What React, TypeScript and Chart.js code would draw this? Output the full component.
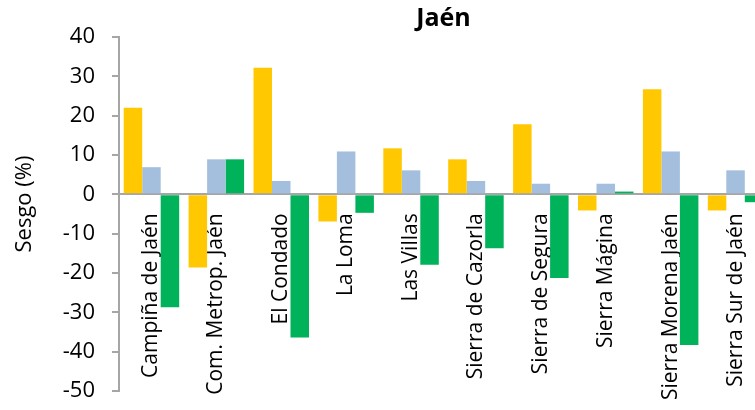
import React, { useEffect, useRef } from "react";
import { Chart, registerables } from "chart.js";

Chart.register(...registerables);

// Comarcas of the province
const categories = [
  "Campiña de Jaén",
  "Com. Metrop. Jaén",
  "El Condado",
  "La Loma",
  "Las Villas",
  "Sierra de Cazorla",
  "Sierra de Segura",
  "Sierra Mágina",
  "Sierra Morena Jaén",
  "Sierra Sur de Jaén",
];

// Bias (%) per comarca, three series
const seriesYellow = [22, -18.6, 32.2, -6.9, 11.7, 8.9, 17.8, -4.1, 26.7, -4.1];
const seriesBlue = [6.9, 8.9, 3.4, 10.9, 6.1, 3.4, 2.7, 2.7, 10.9, 6.1];
const seriesGreen = [-28.7, 8.9, -36.4, -4.7, -17.9, -13.7, -21.3, 0.7, -38.3, -2.0];

const yMin = -50;
const yMax = 40;
const yStep = 10;
const yTitle = "Sesgo (%)";

const FONT = "'Open Sans', 'DejaVu Sans', sans-serif";
const AXIS_GREY = "#a6a6a6";

// Vertical axis title, drawn a little above the middle of the plot area
const yTitlePlugin = {
  id: "yTitle",
  afterDraw(chart: any) {
    const { ctx, chartArea } = chart;
    ctx.save();
    ctx.translate(25, (chartArea.top + chartArea.bottom) / 2 - 10);
    ctx.rotate(-Math.PI / 2);
    ctx.font = `22px ${FONT}`;
    ctx.fillStyle = "#000";
    ctx.textAlign = "center";
    ctx.textBaseline = "middle";
    ctx.fillText(yTitle, 0, 0);
    ctx.restore();
  },
};

export default function App() {
  const canvasRef = useRef<HTMLCanvasElement | null>(null);

  useEffect(() => {
    const canvas = canvasRef.current;
    if (!canvas) return;
    const chart = new Chart(canvas, {
      type: "bar",
      data: {
        labels: categories,
        datasets: [
          { data: seriesYellow, backgroundColor: "#FFC800" },
          { data: seriesBlue, backgroundColor: "#A4BFDE" },
          { data: seriesGreen, backgroundColor: "#00B259" },
        ],
      },
      plugins: [yTitlePlugin],
      options: {
        responsive: false,
        animation: false,
        events: [],
        layout: { padding: { left: 0, right: 2, top: 0, bottom: 19 } },
        datasets: {
          bar: { categoryPercentage: 0.855, barPercentage: 1, borderWidth: 0 },
        },
        plugins: {
          legend: { display: false },
          tooltip: { enabled: false },
          title: {
            display: true,
            text: "Jaén",
            fullSize: false,
            color: "#000",
            font: { family: FONT, size: 25, weight: "bold", lineHeight: 1.2 },
            padding: { top: 4, bottom: 3 },
          },
        },
        scales: {
          x: {
            type: "category",
            position: { y: 0 } as any,
            z: 1,
            offset: true,
            afterFit: (scale: any) => {
              scale.paddingLeft = 0;
              scale.paddingRight = 0;
            },
            grid: { display: false, drawTicks: false },
            border: { display: true, color: AXIS_GREY, width: 2 },
            ticks: {
              autoSkip: false,
              minRotation: 90,
              maxRotation: 90,
              padding: 19,
              color: "#000",
              font: { family: FONT, size: 21 },
            },
          },
          y: {
            min: yMin,
            max: yMax,
            afterFit: (scale: any) => {
              scale.width = 119;
              scale.paddingTop = 0;
              scale.paddingBottom = 0;
            },
            grid: {
              drawOnChartArea: false,
              drawTicks: true,
              tickLength: 7,
              color: AXIS_GREY,
              lineWidth: 2,
            },
            border: { display: true, color: AXIS_GREY, width: 2 },
            ticks: {
              stepSize: yStep,
              padding: 17,
              color: "#000",
              font: { family: FONT, size: 22 },
            },
          },
        },
      },
    });
    return () => chart.destroy();
  }, []);

  return (
    <div
      style={{
        position: "fixed",
        left: 0,
        top: 0,
        width: 755,
        height: 410,
        overflow: "hidden",
        background: "#fff",
      }}
    >
      <canvas ref={canvasRef} width={770} height={410} style={{ display: "block" }} />
    </div>
  );
}
